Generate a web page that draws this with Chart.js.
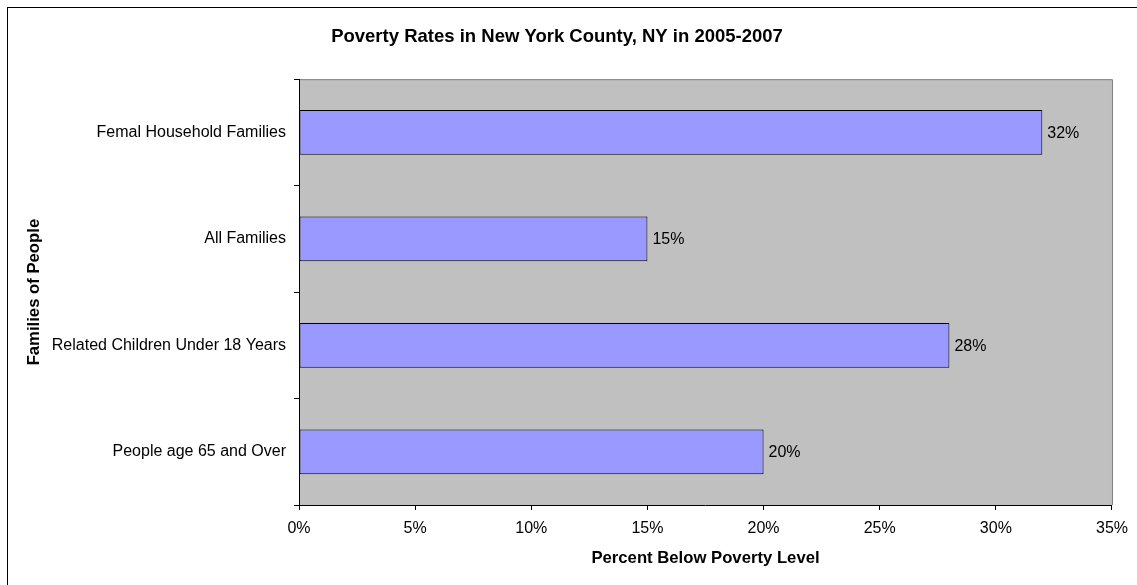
<!DOCTYPE html>
<html>
<head>
<meta charset="utf-8">
<script src="https://cdn.jsdelivr.net/npm/chart.js@4"></script>
<style>
html,body{margin:0;padding:0;background:#fff;}
#wrap{width:1137px;height:585px;position:relative;}
</style>
</head>
<body>
<div id="wrap"><canvas id="c" width="1137" height="585"></canvas></div>
<script>
const categories = ["Femal Household Families", "All Families", "Related Children Under 18 Years", "People age 65 and Over"];
const values = [32, 15, 28, 20];
const xTicks = [0, 5, 10, 15, 20, 25, 30, 35];
const chartTitle = "Poverty Rates in New York County, NY in 2005-2007";
const xTitle = "Percent Below Poverty Level";
const yTitle = "Families of People";

const FONT = "'Liberation Sans', Arial, sans-serif";

const decor = {
  id: 'decor',
  beforeDraw(chart) {
    const {ctx, chartArea: a} = chart;
    ctx.save();
    ctx.fillStyle = '#ffffff';
    ctx.fillRect(0, 0, chart.width, chart.height);
    ctx.strokeStyle = '#000';
    ctx.lineWidth = 1;
    ctx.strokeRect(7.5, 7.5, chart.width + 10, chart.height + 10);
    ctx.fillStyle = '#C0C0C0';
    ctx.fillRect(a.left, a.top, a.right - a.left, a.bottom - a.top);
    ctx.strokeStyle = '#808080';
    ctx.beginPath();
    ctx.moveTo(a.left, a.top + 0.5);
    ctx.lineTo(a.right + 0.5, a.top + 0.5);
    ctx.lineTo(a.right + 0.5, a.bottom);
    ctx.stroke();
    ctx.restore();
  },
  afterDatasetsDraw(chart) {
    const {ctx} = chart;
    const meta = chart.getDatasetMeta(0);
    ctx.save();
    ctx.fillStyle = '#000';
    ctx.font = "16px " + FONT;
    ctx.textAlign = 'left';
    ctx.textBaseline = 'middle';
    meta.data.forEach((bar, i) => {
      ctx.fillText(values[i] + '%', bar.x + 5, bar.y + 1);
    });
    ctx.restore();
  }
};

new Chart(document.getElementById('c'), {
  type: 'bar',
  data: {
    labels: categories,
    datasets: [{
      data: values,
      backgroundColor: '#9999FF',
      borderColor: '#000000',
      borderWidth: 1,
      borderSkipped: false,
      categoryPercentage: 1,
      barPercentage: 0.42
    }]
  },
  options: {
    indexAxis: 'y',
    responsive: false,
    animation: false,
    devicePixelRatio: 1,
    layout: {padding: {left: 0, right: 23, top: 0, bottom: 0}},
    plugins: {
      legend: {display: false},
      tooltip: {enabled: false},
      title: {
        display: true,
        text: chartTitle,
        color: '#000',
        font: {family: FONT, size: 18.5, weight: 'bold'},
        padding: {top: 26, bottom: 31}
      }
    },
    scales: {
      x: {
        type: 'linear',
        min: 0,
        max: 35,
        afterBuildTicks(scale) { scale.ticks = xTicks.map(v => ({value: v})); },
        afterFit(scale) { scale.height = 80; },
        grid: {display: true, drawOnChartArea: false, drawTicks: true, tickLength: 5, color: '#000'},
        border: {display: true, color: '#000', width: 1},
        ticks: {
          color: '#000',
          font: {family: FONT, size: 16},
          padding: 9,
          maxRotation: 0,
          callback: v => v + '%'
        },
        title: {
          display: true,
          text: xTitle,
          color: '#000',
          font: {family: FONT, size: 16.7, weight: 'bold'},
          padding: {top: 4, bottom: 17}
        }
      },
      y: {
        type: 'category',
        afterFit(scale) { scale.width = 299; },
        grid: {display: true, offset: true, drawOnChartArea: false, drawTicks: true, tickLength: 5, color: '#000'},
        border: {display: true, color: '#000', width: 1},
        ticks: {
          color: '#000',
          font: {family: FONT, size: 16},
          padding: 8
        },
        title: {
          display: true,
          text: yTitle,
          color: '#000',
          font: {family: FONT, size: 16.7, weight: 'bold'},
          padding: {top: 24, bottom: 4}
        }
      }
    }
  },
  plugins: [decor]
});
</script>
</body>
</html>
